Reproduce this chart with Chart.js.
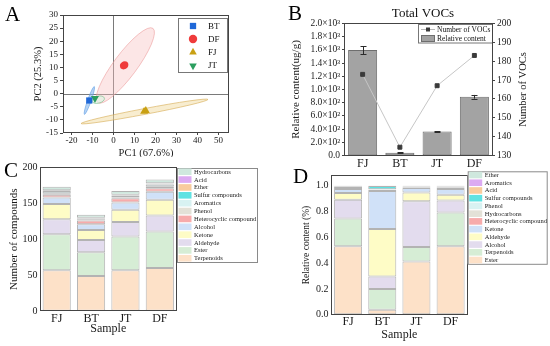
<!DOCTYPE html>
<html>
<head>
<meta charset="utf-8">
<script src="https://cdn.jsdelivr.net/npm/chart.js@4.4.1/dist/chart.umd.min.js"></script>
<style>
  html,body{margin:0;padding:0;background:#fff}
  #fig{position:relative;width:550px;height:346px;overflow:hidden;font-family:"Liberation Serif","Times New Roman",serif}
  #fig canvas{position:absolute}
  .tag{position:absolute;font-size:21px;line-height:21px;color:#000}
</style>
</head>
<body>
<div id="fig">
  <canvas id="pC" width="275" height="181" style="left:0;top:157px"></canvas>
  <canvas id="pD" width="275" height="181" style="left:275px;top:165px"></canvas>
  <canvas id="pB" width="275" height="172" style="left:275px;top:0"></canvas>
  <canvas id="pA" width="275" height="157" style="left:0;top:0"></canvas>
  <div class="tag" style="left:5px;top:4px">A</div>
  <div class="tag" style="left:288px;top:3px">B</div>
  <div class="tag" style="left:4px;top:160px">C</div>
  <div class="tag" style="left:293px;top:166px">D</div>
</div>
<script>
// ── data ──────────────────────────────────────────
var samples=['FJ','BT','JT','DF'];

// A: PCA scores (replicates) and confidence ellipses (major-axis ends, minor/major ratio)
var pcaGroups=['BT','DF','FJ','JT'];
var pcaPC1=[[-11.5],[4.8,5.4],[14.6,15.4],[-8.8]];
var pcaPC2=[[-2.6],[10.6,11.0],[-6.8,-6.5],[-1.8]];
var ellEndA=[[-13.8,-7.9],[-7.5,-3.4],[-15.4,-11.4],[-10.2,-2.9]];
var ellEndB=[[-9.1,2.7],[18.8,24.9],[45,-2.2],[-4.3,-1.7]];
var ellRatio=[0.12,0.25,0.045,0.55];
var pc1Ticks=[-20,-10,0,10,20,30,40,50];

// B: total VOCs
var vocContent=[1595,45,365,890];
var vocErr=[62,8,4,28];
var vocCount=[173,134.5,167,183];
var contentTicks=['0.0','2.0×10²','4.0×10²','6.0×10²','8.0×10²','1.0×10³','1.2×10³','1.4×10³','1.6×10³','1.8×10³','2.0×10³'];

// C: number of compounds per class (stack bottom -> top)
var classesC=['Terpenoids','Ester','Aldehyde','Ketone','Alcohol','Heterocyclic compound','Phenol','Aromatics','Sulfur compounds','Ether','Acid','Hydrocarbons'];
var countsC=[
  [57,49,57,60],
  [50,33,47,51],
  [21,17,20,22],
  [21,14,17,22],
  [9,8,10,11],
  [4,5,6,5],
  [2,1,1,2],
  [3,2,3,3],
  [0,0,0,0],
  [1,1,1,1],
  [0,0,0,1],
  [5,4,5,5]
];

// D: relative content per class (stack bottom -> top)
var classesD=['Ester','Terpenoids','Alcohol','Aldehyde','Ketone','Heterocyclic compound','Hydrocarbons','Phenol','Sulfur compounds','Acid','Aromatics','Ether'];
var shareD=[
  [0.530,0.039,0.413,0.530],
  [0.215,0.161,0.112,0.263],
  [0.147,0.097,0.354,0.093],
  [0.052,0.367,0.069,0.044],
  [0.030,0.296,0.034,0.044],
  [0.008,0.008,0.004,0.012],
  [0.008,0.003,0.008,0.006],
  [0.004,0.002,0.002,0.003],
  [0,0.025,0,0],
  [0.003,0.001,0.002,0.002],
  [0.001,0.0005,0.001,0.001],
  [0.002,0.0005,0.001,0.002]
];
var shareTicks=['0.0','0.2','0.4','0.6','0.8','1.0'];

// ── styles ────────────────────────────────────────
var pcaColors=['#1f68d8','#ef3b3b','#c9a013','#2c9e5f'];
var pcaMarker=['rect','circle','triangle','triangle'];
var pcaRot=[0,0,0,180];
var ellFill=['rgba(120,175,235,.55)','rgba(248,190,190,.38)','rgba(240,215,150,.45)','rgba(225,242,228,.7)'];
var ellLine=['rgba(100,160,230,.8)','rgba(235,150,150,.7)','rgba(215,175,90,.8)','rgba(120,190,140,.8)'];
var stackColors=['#fde1c8','#d6edd5','#e3dcee','#fefcc6','#d0e1f8','#f7abab','#e3e1d7','#d8f2f2','#5fe2e2','#f8cb9d','#dcaaf2','#cfe8de'];

Chart.defaults.font.family='"Liberation Serif","Times New Roman",serif';
Chart.defaults.color='#1a1a1a';
Chart.defaults.animation=false;

function G(id){return document.getElementById(id);}
function fixW(w){return function(s){s.width=w;};}
function fixH(h){return function(s){s.height=h;};}

// ── shared plugins ────────────────────────────────
var framePlugin={id:'frame',afterDraw:function(c){
  var a=c.chartArea,x=c.ctx;
  x.save();x.strokeStyle='#444';x.lineWidth=1;
  x.strokeRect(Math.round(a.left)+.5,Math.round(a.top)+.5,Math.round(a.right)-Math.round(a.left)-1,Math.round(a.bottom)-Math.round(a.top)-1);
  x.restore();
}};
var textPlugin={id:'texts',afterDraw:function(c,args,o){
  var x=c.ctx;(o.items||[]).forEach(function(t){
    x.save();x.translate(t.x,t.y);if(t.rot)x.rotate(t.rot);
    x.font=t.size+'px "Liberation Serif",serif';x.fillStyle='#111';x.textAlign='center';x.textBaseline='middle';
    x.fillText(t.text,0,0);x.restore();
  });
}};
function marker(x,style,rot,cx,cy,r){
  x.beginPath();
  if(style==='rect'){var s=r*.75;x.rect(cx-s,cy-s,2*s,2*s);}
  else if(style==='circle'){x.arc(cx,cy,r,0,Math.PI*2);}
  else{var d=rot?-1:1;x.moveTo(cx,cy-d*r);x.lineTo(cx+r*.9,cy+d*r*.6);x.lineTo(cx-r*.9,cy+d*r*.6);x.closePath();}
  x.fill();
}
// stacked-bar legend box (top entry = last dataset)
var stackLegend={id:'stackLegend',afterDraw:function(c,args,o){
  if(!o.box)return;
  var x=c.ctx,b=o.box,ds=c.data.datasets.slice().reverse();
  x.save();
  x.fillStyle='#fff';x.fillRect(b[0],b[1],b[2],b[3]);
  x.strokeStyle='#8a8a8a';x.lineWidth=1;x.strokeRect(b[0]+.5,b[1]+.5,b[2],b[3]);
  x.font='6.5px "Liberation Serif",serif';x.textBaseline='middle';x.textAlign='left';
  ds.forEach(function(d,i){
    var y=b[1]+o.first+i*o.step;
    x.fillStyle=d.backgroundColor;x.fillRect(b[0]+1.5,y-3.3,13,6.6);
    x.fillStyle='#222';x.fillText(d.label,b[0]+17,y+.3);
  });
  x.restore();
}};

// ── A: PCA ────────────────────────────────────────
var ellPlugin={id:'ell',beforeDatasetsDraw:function(c){
  var x=c.ctx,a=c.chartArea,sx=c.scales.x,sy=c.scales.y;
  x.save();x.beginPath();x.rect(a.left,a.top,a.right-a.left,a.bottom-a.top);x.clip();
  x.strokeStyle='#7a7a7a';x.lineWidth=1;x.beginPath();
  var px=Math.round(sx.getPixelForValue(0))+.5,py=Math.round(sy.getPixelForValue(0))+.5;
  x.moveTo(px,a.top);x.lineTo(px,a.bottom);x.moveTo(a.left,py);x.lineTo(a.right,py);x.stroke();
  ellEndA.forEach(function(p,i){
    var q=ellEndB[i];
    var x1=sx.getPixelForValue(p[0]),y1=sy.getPixelForValue(p[1]),x2=sx.getPixelForValue(q[0]),y2=sy.getPixelForValue(q[1]);
    var ra=Math.hypot(x2-x1,y2-y1)/2,ang=Math.atan2(y2-y1,x2-x1);
    x.beginPath();x.ellipse((x1+x2)/2,(y1+y2)/2,ra,ra*ellRatio[i],ang,0,Math.PI*2);
    x.fillStyle=ellFill[i];x.fill();x.strokeStyle=ellLine[i];x.lineWidth=.8;x.stroke();
  });
  x.restore();
},afterDraw:function(c){
  var x=c.ctx,sx=c.scales.x;x.save();
  // PC1 tick labels, placed through the x scale
  x.font='9px "Liberation Serif",serif';x.fillStyle='#1a1a1a';x.textAlign='center';x.textBaseline='middle';
  pc1Ticks.forEach(function(v){x.fillText(String(v),sx.getPixelForValue(v),sx.top+7.4);});
  // legend
  x.fillStyle='#fff';x.fillRect(178,18,49,54);
  x.strokeStyle='#777';x.lineWidth=1;x.strokeRect(178.5,18.5,49,54);
  x.textAlign='left';
  pcaGroups.forEach(function(g,i){
    var y=26+i*13;x.fillStyle=pcaColors[i];
    marker(x,pcaMarker[i],pcaRot[i],193,y+(pcaRot[i]?1:0),4.2);
    x.fillStyle='#111';x.fillText(g,208,y+.5);
  });
  x.restore();
}};

new Chart(G('pA'),{
  type:'scatter',
  data:{datasets:pcaGroups.map(function(g,i){
    return{label:g,data:pcaPC1[i].map(function(v,j){return{x:v,y:pcaPC2[i][j]};}),
      pointStyle:pcaMarker[i],rotation:pcaRot[i],pointRadius:pcaMarker[i]==='rect'?4.4:(pcaMarker[i]==='circle'?3.6:4.6),
      backgroundColor:pcaColors[i],borderColor:pcaColors[i],borderWidth:0};
  })},
  options:{responsive:false,layout:{padding:{left:0,top:15,right:46,bottom:0}},
    plugins:{legend:{display:false},tooltip:{enabled:false}},
    scales:{
      x:{type:'linear',min:-24,max:55,bounds:'data',afterFit:fixH(24),
        afterBuildTicks:function(s){s.ticks=pc1Ticks.map(function(v){return{value:v};});},
        ticks:{display:false,autoSkip:false},
        grid:{drawOnChartArea:false,tickLength:2,color:'#444'},border:{display:false},
        title:{display:true,text:'PC1 (67.6%)',font:{size:10.5},padding:{top:0,bottom:-3}}},
      y:{min:-15,max:30,afterFit:fixW(63),
        ticks:{stepSize:5,font:{size:9},padding:2,autoSkip:false},
        grid:{drawOnChartArea:false,tickLength:3,color:'#444'},border:{display:false},
        title:{display:true,text:'PC2 (25.3%)',font:{size:10.5},padding:{top:32,bottom:0}}}
    }},
  plugins:[ellPlugin,framePlugin]
});

// ── B: total VOCs ─────────────────────────────────
var errPlugin={id:'err',afterDatasetDraw:function(c,args){
  if(args.index!==1)return;
  var x=c.ctx,sy=c.scales.y,meta=c.getDatasetMeta(1);
  x.save();x.strokeStyle='#2a2a2a';x.lineWidth=1;
  meta.data.forEach(function(b,i){
    var t=sy.getPixelForValue(vocContent[i]+vocErr[i]),m=sy.getPixelForValue(vocContent[i]-vocErr[i]),cx=Math.round(b.x)+.5;
    x.beginPath();x.moveTo(cx,t);x.lineTo(cx,m);
    x.moveTo(cx-3,Math.round(t)+.5);x.lineTo(cx+3,Math.round(t)+.5);
    x.moveTo(cx-3,Math.round(m)+.5);x.lineTo(cx+3,Math.round(m)+.5);x.stroke();
  });
  x.restore();
},afterDraw:function(c){
  var x=c.ctx;x.save();
  x.fillStyle='#fff';x.fillRect(143,24.5,75,18.5);
  x.strokeStyle='#777';x.lineWidth=1;x.strokeRect(143.5,24.5,74,18.5);
  x.strokeStyle='#b8b8b8';x.beginPath();x.moveTo(146,29.5);x.lineTo(160,29.5);x.stroke();
  x.fillStyle='#3a3a3a';x.fillRect(151,27.5,4,4);
  x.fillStyle='#a2a2a2';x.fillRect(146,35,14,7);x.strokeStyle='#6e6e6e';x.strokeRect(146.5,35.5,13,6);
  x.font='7.5px "Liberation Serif",serif';x.textBaseline='middle';x.fillStyle='#111';
  x.fillText('Number of VOCs',162,29.8);x.fillText('Relative content',162,38.8);
  x.restore();
}};

new Chart(G('pB'),{
  type:'bar',
  data:{labels:samples,datasets:[
    {type:'line',label:'Number of VOCs',data:vocCount,yAxisID:'y1',borderColor:'#c6c6c6',borderWidth:1,
      pointStyle:'rect',pointRadius:2.8,pointBackgroundColor:'#3a3a3a',pointBorderColor:'#3a3a3a',order:0},
    {type:'bar',label:'Relative content',data:vocContent,yAxisID:'y',backgroundColor:'#a3a3a3',borderColor:'#6e6e6e',
      borderWidth:1,borderSkipped:false,barPercentage:0.78,categoryPercentage:1,order:1}
  ]},
  options:{responsive:false,layout:{padding:{left:0,top:23.3,right:0,bottom:0}},
    plugins:{legend:{display:false},tooltip:{enabled:false},
      texts:{items:[{text:'Total VOCs',x:148,y:14,size:13},{text:'Number of VOCs',x:248,y:89.5,size:10.5,rot:-Math.PI/2}]}},
    scales:{
      x:{afterFit:fixH(16.3),ticks:{font:{size:12},padding:1,autoSkip:false},grid:{display:false,drawTicks:false},border:{display:false}},
      y:{position:'left',min:0,max:2000,afterFit:fixW(69),
        ticks:{stepSize:200,font:{size:9.5},padding:2,autoSkip:false,callback:function(v,i){return contentTicks[i];}},
        grid:{drawOnChartArea:false,tickLength:2,color:'#444'},border:{display:false},
        title:{display:true,text:'Relative content(ug/g)',font:{size:11},padding:{top:15,bottom:0}}},
      y1:{position:'right',min:130,max:200,afterFit:fixW(57),
        ticks:{stepSize:10,font:{size:9.5},padding:2,autoSkip:false},
        grid:{drawOnChartArea:false,tickLength:2,color:'#444'},border:{display:false}}
    }},
  plugins:[errPlugin,framePlugin,textPlugin]
});

// ── C: number of compounds ────────────────────────
new Chart(G('pC'),{
  type:'bar',
  data:{labels:samples,datasets:classesC.map(function(n,i){
    return{label:n,data:countsC[i],backgroundColor:stackColors[i],borderColor:'#b3b3b3',borderWidth:1,borderSkipped:false,
      barPercentage:0.82,categoryPercentage:1};
  })},
  options:{responsive:false,layout:{padding:{left:0,top:10.3,right:98,bottom:0}},
    plugins:{legend:{display:false},tooltip:{enabled:false},
      stackLegend:{box:[177,11,80,94],first:3.7,step:7.87}},
    scales:{
      x:{stacked:true,afterFit:fixH(26.7),ticks:{font:{size:12},padding:0.5,autoSkip:false},grid:{display:false,drawTicks:false},border:{display:false},
        title:{display:true,text:'Sample',font:{size:12},padding:{top:0,bottom:1.8}}},
      y:{stacked:true,min:0,max:200,afterFit:fixW(39.5),ticks:{stepSize:50,font:{size:10},padding:2,autoSkip:false},
        grid:{drawOnChartArea:false,drawTicks:false},border:{display:false},
        title:{display:true,text:'Number of compounds',font:{size:11},padding:{top:7.7,bottom:0}}}
    }},
  plugins:[framePlugin,stackLegend]
});

// ── D: relative content ───────────────────────────
new Chart(G('pD'),{
  type:'bar',
  data:{labels:samples,datasets:classesD.map(function(n,i){
    return{label:n,data:shareD[i],backgroundColor:stackColors[i],borderColor:'#b3b3b3',borderWidth:1,borderSkipped:false,
      barPercentage:0.82,categoryPercentage:1};
  })},
  options:{responsive:false,layout:{padding:{left:0,top:10.4,right:82.3,bottom:0}},
    plugins:{legend:{display:false},tooltip:{enabled:false},
      stackLegend:{box:[192.7,6.3,79,92.5],first:3.7,step:7.73}},
    scales:{
      x:{stacked:true,afterFit:fixH(31.3),ticks:{font:{size:12},padding:0,autoSkip:false},grid:{display:false,drawTicks:false},border:{display:false},
        title:{display:true,text:'Sample',font:{size:12},padding:{top:0,bottom:3.8}}},
      y:{stacked:true,min:0,max:1.08,afterFit:fixW(56),
        afterBuildTicks:function(s){s.ticks=s.ticks.filter(function(t){var k=t.value*5;return Math.abs(k-Math.round(k))<1e-6&&t.value<=1.0001;});},
        ticks:{stepSize:0.2,includeBounds:false,font:{size:10},padding:2.5,autoSkip:false,callback:function(v,i){return shareTicks[i];}},
        grid:{drawOnChartArea:false,drawTicks:false},border:{display:false},
        title:{display:true,text:'Relative content (%)',font:{size:9.5},padding:{top:26,bottom:0}}}
    }},
  plugins:[framePlugin,stackLegend]
});
</script>
</body>
</html>
